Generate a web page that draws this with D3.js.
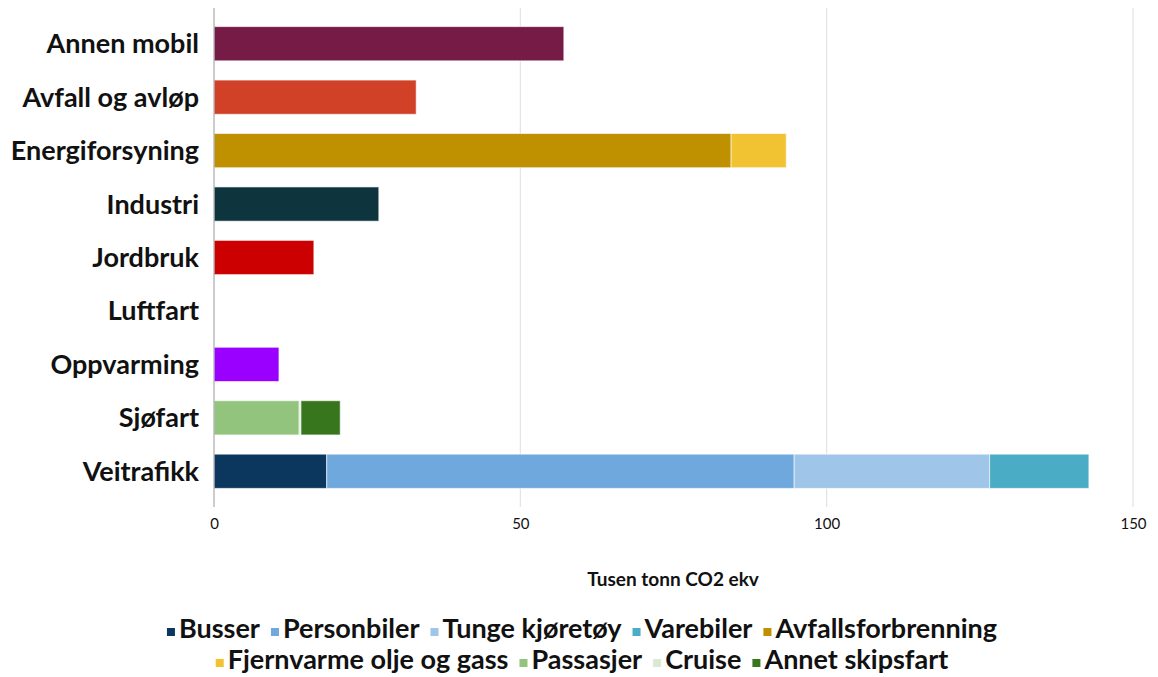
<!DOCTYPE html>
<html>
<head>
<meta charset="utf-8">
<script src="https://cdn.jsdelivr.net/npm/d3@7"></script>
<style>
  body { margin: 0; background: #fff; }
  svg text { font-family: Lato, "Open Sans", sans-serif; fill: #111; }
  .cat text { font-weight: bold; font-size: 27px; }
  .x.axis text { font-size: 15px; }
  .legend text { font-weight: bold; font-size: 27px; }
</style>
</head>
<body>
<div id="chart" style="width:1158px;height:677px"></div>
<script>
// categories (top to bottom)
const categories = ['Annen mobil', 'Avfall og avløp', 'Energiforsyning', 'Industri',
                    'Jordbruk', 'Luftfart', 'Oppvarming', 'Sjøfart', 'Veitrafikk'];

// single-valued sectors (tusen tonn CO2 ekv), not in the legend
const sectorTotals = [57.1, 33.0, 0, 26.9, 16.3, 0, 10.6, 0, 0];
const sectorColors = ['#751b45', '#d04127', '#bf9000', '#0e343e', '#cc0000', '#999', '#9900ff', '#93c47d', '#0b375f'];

// stacked sub-series (legend)
const seriesNames = ['Busser', 'Personbiler', 'Tunge kjøretøy', 'Varebiler', 'Avfallsforbrenning',
                     'Fjernvarme olje og gass', 'Passasjer', 'Cruise', 'Annet skipsfart'];
const seriesColors = ['#0b375f', '#6fa8dc', '#9fc5e8', '#4bacc6', '#bf9000',
                      '#f1c232', '#93c47d', '#d9ead3', '#38761d'];
const seriesCategory = ['Veitrafikk', 'Veitrafikk', 'Veitrafikk', 'Veitrafikk', 'Energiforsyning',
                        'Energiforsyning', 'Sjøfart', 'Sjøfart', 'Sjøfart'];
const seriesValues = [18.4, 76.3, 31.9, 16.2, 84.4, 9.0, 13.9, 0.3, 6.4];

const xTicks = [0, 50, 100, 150];
const xTitle = 'Tusen tonn CO2 ekv';
const legendRows = [5, 4];

// build segments
let segments = [];
categories.forEach(function(c, i) {
    if (sectorTotals[i] > 0) {
        segments.push({cat: c, x0: 0, x1: sectorTotals[i], color: sectorColors[i]});
    }
});
let offsets = {};
seriesNames.forEach(function(s, i) {
    let c = seriesCategory[i];
    let start = offsets[c] || 0;
    segments.push({cat: c, x0: start, x1: start + seriesValues[i], color: seriesColors[i]});
    offsets[c] = start + seriesValues[i];
});

const svg = d3.select('#chart').append('svg')
    .attr('width', 1158)
    .attr('height', 677);

const x = d3.scaleLinear().domain([0, 150]).range([214, 1133]);
const y = d3.scaleBand().domain(categories).range([17, 498])
    .paddingInner(0.36).paddingOuter(0.18);

const plotTop = 8, plotBottom = 507;

// gridlines
svg.append('g').selectAll('line')
    .data(xTicks.slice(1))
  .enter().append('line')
    .attr('x1', d => x(d)).attr('x2', d => x(d))
    .attr('y1', plotTop).attr('y2', plotBottom)
    .attr('stroke', '#e3e3e3')
    .attr('stroke-width', 1.2);

// bars
svg.append('g').selectAll('rect')
    .data(segments)
  .enter().append('rect')
    .attr('x', d => x(d.x0))
    .attr('y', d => y(d.cat))
    .attr('width', d => x(d.x1) - x(d.x0))
    .attr('height', y.bandwidth())
    .attr('fill', d => d.color)
    .attr('stroke', '#fff')
    .attr('stroke-opacity', 0.6)
    .attr('stroke-width', 1);

// vertical axis line
svg.append('line')
    .attr('x1', x(0)).attr('x2', x(0))
    .attr('y1', plotTop).attr('y2', plotBottom)
    .attr('stroke', '#aaa')
    .attr('stroke-width', 1.2);

// category labels
svg.append('g').attr('class', 'cat').selectAll('text')
    .data(categories)
  .enter().append('text')
    .attr('x', 199)
    .attr('y', d => y(d) + y.bandwidth() / 2)
    .attr('dy', '0.35em')
    .attr('text-anchor', 'end')
    .text(d => d);

// x axis labels
const xAxis = d3.axisBottom(x).tickValues(xTicks).tickSize(0).tickPadding(0);
const gx = svg.append('g')
    .attr('class', 'x axis')
    .attr('transform', 'translate(0,518)')
    .call(xAxis);
gx.select('.domain').remove();

// axis title
svg.append('text')
    .attr('x', 673)
    .attr('y', 586)
    .attr('text-anchor', 'middle')
    .style('font-size', '19px')
    .style('font-weight', 'bold')
    .text(xTitle);

// legend
const legend = svg.append('g').attr('class', 'legend');
let idx = 0;
legendRows.forEach(function(n, r) {
    let rowItems = seriesNames.slice(idx, idx + n).map((s, k) => ({name: s, color: seriesColors[idx + k]}));
    idx += n;
    let row = legend.append('g');
    let cx = 0;
    rowItems.forEach(function(it) {
        let g = row.append('g').attr('transform', 'translate(' + cx + ',0)');
        g.append('rect').attr('x', 0).attr('y', -10).attr('width', 8).attr('height', 8).attr('fill', it.color);
        let t = g.append('text').attr('x', 12).attr('y', 0).text(it.name);
        cx += 12 + t.node().getComputedTextLength() + 11;
    });
    let w = cx - 11;
    row.attr('transform', 'translate(' + (582 - w / 2) + ',' + (638 + r * 31) + ')');
});
</script>
</body>
</html>
